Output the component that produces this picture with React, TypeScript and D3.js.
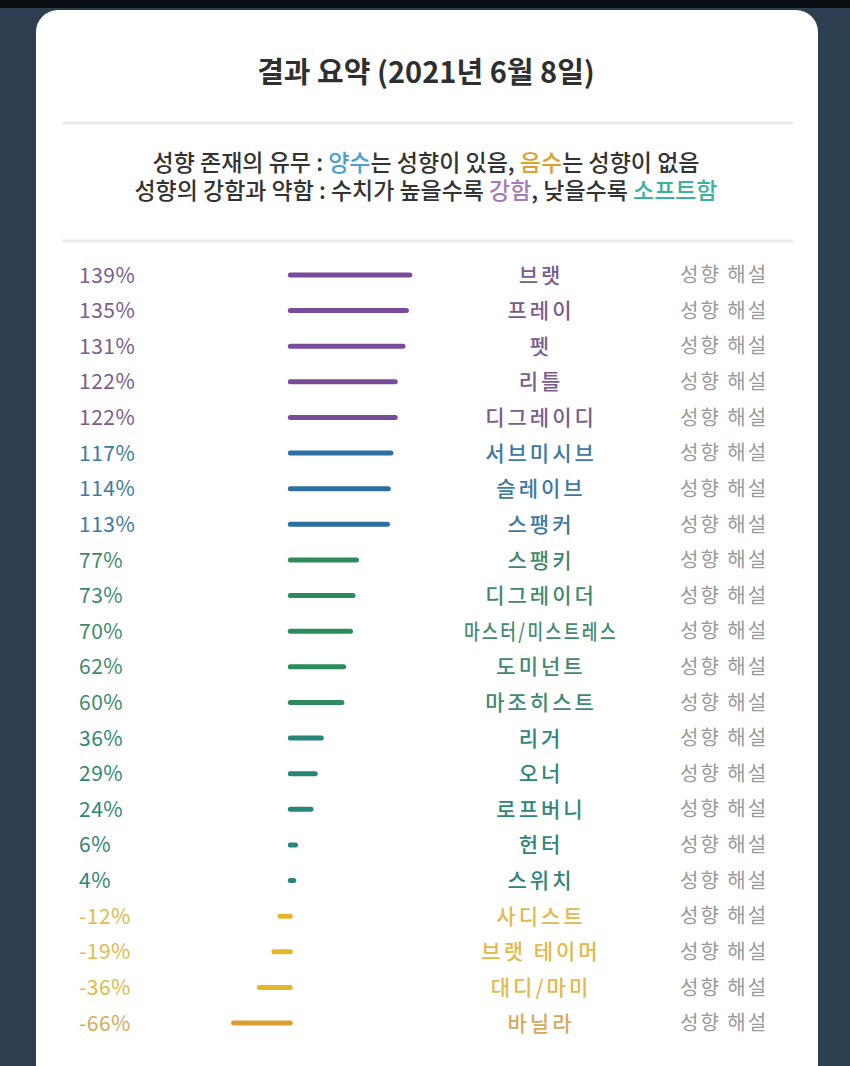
import React, { useRef, useEffect } from 'react';
import * as d3 from 'd3';

// data
const categories = [
  '브랫', '프레이', '펫', '리틀', '디그레이디', '서브미시브', '슬레이브', '스팽커',
  '스팽키', '디그레이더', '마스터/미스트레스', '도미넌트', '마조히스트', '리거', '오너',
  '로프버니', '헌터', '스위치', '사디스트', '브랫 테이머', '대디/마미', '바닐라',
];
const values = [139, 135, 131, 122, 122, 117, 114, 113, 77, 73, 70, 62, 60, 36, 29, 24, 6, 4, -12, -19, -36, -66];
const groups = [
  'purple', 'purple', 'purple', 'purple', 'purple', 'blue', 'blue', 'blue',
  'green', 'green', 'green', 'green', 'green', 'teal', 'teal', 'teal', 'teal', 'teal',
  'yellow', 'yellow', 'yellow', 'orange',
];
const groupNames = ['purple', 'blue', 'green', 'teal', 'yellow', 'orange'];
const barColors = ['#7b4b9b', '#2f6f9f', '#2e8b5e', '#27857a', '#e6b62a', '#dd9c34'];
const textColors = ['#7a5c8e', '#3d7aa3', '#3f8a6c', '#2f8678', '#e2b94a', '#d6a95a'];

const W = 850;
const H = 1066;

export default function App() {
  const svgRef = useRef<SVGSVGElement>(null);

  useEffect(() => {
    const svg = d3.select(svgRef.current);
    svg.selectAll('*').remove();
    const font = "'Noto Sans CJK KR', 'Noto Sans', sans-serif";

    // background + card
    svg.append('rect').attr('width', W).attr('height', H).attr('fill', '#2d3e50');
    svg.append('rect').attr('width', W).attr('height', 8).attr('fill', '#0b0f14');
    svg.append('rect')
      .attr('x', 36).attr('y', 10).attr('width', 782).attr('height', H + 40)
      .attr('rx', 22).attr('fill', '#ffffff');

    // title
    const title = svg.append('text')
      .attr('x', 426).attr('y', 83)
      .attr('text-anchor', 'middle')
      .style('font-family', font).style('font-size', '29px').style('font-weight', 700)
      .style('fill', '#2f2f2f')
      .text('결과 요약 (2021년 6월 8일)');
    const tl = (title.node() as SVGTextElement).getComputedTextLength();
    if (tl > 345) title.attr('textLength', 345).attr('lengthAdjust', 'spacingAndGlyphs');

    [123, 241].forEach(y => {
      svg.append('line')
        .attr('x1', 62).attr('x2', 793).attr('y1', y).attr('y2', y)
        .attr('stroke', '#ebebeb').attr('stroke-width', 3);
    });

    // legend
    const legend: [string, string][][] = [
      [['성향 존재의 유무 : ', '#333'], ['양수', '#4a9fd0'], ['는 성향이 있음, ', '#333'], ['음수', '#e0a030'], ['는 성향이 없음', '#333']],
      [['성향의 강함과 약함 : 수치가 높을수록 ', '#333'], ['강함', '#a57bb8'], [', 낮을수록 ', '#333'], ['소프트함', '#3bb39a']],
    ];
    const legendWidths = [550, 583];
    legend.forEach((parts, i) => {
      const t = svg.append('text')
        .attr('x', 426).attr('y', 171 + i * 28)
        .attr('text-anchor', 'middle')
        .style('font-family', font).style('font-size', '23px').style('font-weight', 500);
      parts.forEach(([s, c]) => t.append('tspan').style('fill', c).text(s));
      const len = (t.node() as SVGTextElement).getComputedTextLength();
      if (len > legendWidths[i]) t.attr('textLength', legendWidths[i]).attr('lengthAdjust', 'spacingAndGlyphs');
    });

    // rows
    const y = d3.scalePoint<string>().domain(categories).range([275, 1023]);
    const x = d3.scaleLinear().domain([0, 100]).range([290.3, 376.3]);
    const barColor = d3.scaleOrdinal<string, string>().domain(groupNames).range(barColors);
    const textColor = d3.scaleOrdinal<string, string>().domain(groupNames).range(textColors);

    const rows = categories.map((c, i) => ({ c, v: values[i], g: groups[i] }));

    const row = svg.append('g').selectAll('g').data(rows).join('g')
      .attr('transform', d => `translate(0,${y(d.c)})`);

    row.append('text')
      .attr('x', 79).attr('dy', '0.36em')
      .style('font-family', font).style('font-size', '21px')
      .style('letter-spacing', '0.5px')
      .style('fill', d => textColor(d.g))
      .text(d => `${d.v}%`);

    row.append('line')
      .attr('x1', x(0)).attr('x2', d => x(d.v))
      .attr('stroke', d => barColor(d.g)).attr('stroke-width', 5)
      .attr('stroke-linecap', 'round');

    row.append('text')
      .attr('x', 541).attr('dy', '0.36em')
      .attr('text-anchor', 'middle')
      .style('font-family', font).style('font-size', '21px').style('font-weight', 500)
      .style('letter-spacing', '3px')
      .style('fill', d => textColor(d.g))
      .text(d => d.c)
      .each(function () {
        const el = this as SVGTextElement;
        if (el.getComputedTextLength() > 154) {
          d3.select(el).attr('textLength', 154).attr('lengthAdjust', 'spacingAndGlyphs');
        }
      });

    row.append('text')
      .attr('x', 680).attr('dy', '0.36em')
      .style('font-family', font).style('font-size', '20px')
      .style('letter-spacing', '2px')
      .style('fill', '#9a9a9a')
      .text('성향 해설');
  }, []);

  return (
    <div style={{ position: 'absolute', left: 0, top: 0, width: W, height: H, overflow: 'hidden' }}>
      <svg ref={svgRef} width={W} height={H} />
    </div>
  );
}
